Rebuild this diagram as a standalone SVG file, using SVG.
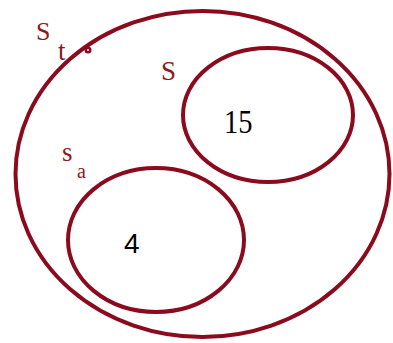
<svg xmlns="http://www.w3.org/2000/svg" width="393" height="343" viewBox="0 0 393 343">
<style>
.ring{fill:none;stroke:#8B0A1E;stroke-width:4}
.lbl{fill:#8B1A1A}
text{font-family:'Liberation Serif','Times New Roman','DejaVu Serif',serif}
</style>
<rect width="393" height="343" fill="#fff"/>
<g id="St">
<ellipse class="ring" cx="202.5" cy="174" rx="187" ry="163"/>
<circle cx="88" cy="50" r="3.5" fill="#8B0A1E"/>
<circle cx="88" cy="50" r="1" fill="#fff"/>
<text class="lbl" x="36" y="40" font-size="26">S</text>
<text class="lbl" x="58" y="60" font-size="27">t</text>
</g>
<g id="S">
<ellipse class="ring" cx="268" cy="115" rx="85" ry="67"/>
<text class="lbl" x="161" y="80" font-size="27">S</text>
<text x="224" y="133" font-size="31" fill="#000" transform="translate(224 133) scale(0.92 1.1) translate(-224 -133)">15</text>
</g>
<g id="Sa">
<ellipse class="ring" cx="156" cy="240" rx="88" ry="72"/>
<text class="lbl" x="62" y="161" font-size="27">s</text>
<text class="lbl" x="77" y="178" font-size="20">a</text>
<text x="124" y="253" font-size="28" fill="#000" style="font-family:'Liberation Sans',Arial,sans-serif">4</text>
</g>
</svg>
